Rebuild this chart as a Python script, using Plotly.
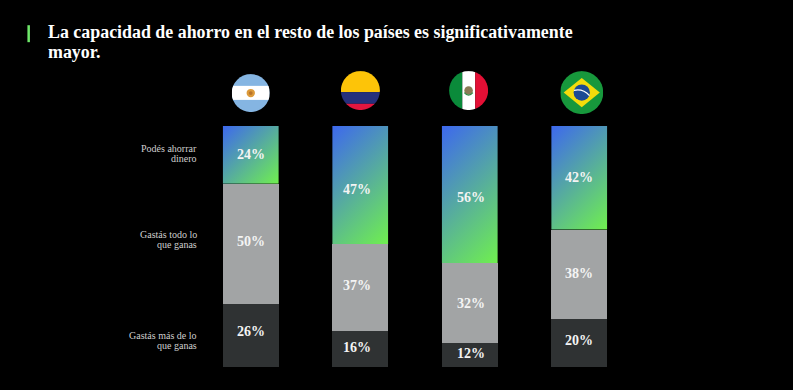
import base64
import plotly.graph_objects as go

W, H = 793, 390
PLOT_L, PLOT_R, PLOT_T, PLOT_B = 196.33, 633.67, 126.0, 367.5

countries = ["Argentina", "Colombia", "México", "Brasil"]
series_names = ["Gastás más de lo que ganas", "Gastás todo lo que ganas", "Podés ahorrar dinero"]
# bar heights as drawn in the picture
bar_more = [26, 15, 10, 20]
bar_all = [50, 36, 33, 37]
bar_save = [24, 49, 57, 43]
# printed percentages
label_more = ["26%", "16%", "12%", "20%"]
label_all = ["50%", "37%", "32%", "38%"]
label_save = ["24%", "47%", "56%", "42%"]
title_lines = ["La capacidad de ahorro en el resto de los países es significativamente", "mayor."]
row_labels = [("Podés ahorrar", "dinero"), ("Gastás todo lo", "que ganas"), ("Gastás más de lo", "que ganas")]

FONT = "Liberation Serif"
x_pos = list(range(len(countries)))


def px(x):
    return (x - PLOT_L) / (PLOT_R - PLOT_L)


def py(y):
    return (PLOT_B - y) / (PLOT_B - PLOT_T)


def uri(svg):
    return "data:image/svg+xml;base64," + base64.b64encode(svg.encode()).decode()


def flag(body):
    return uri(
        '<svg xmlns="http://www.w3.org/2000/svg" width="200" height="200" viewBox="0 0 100 100">'
        '<defs><clipPath id="c"><circle cx="50" cy="50" r="50"/></clipPath></defs>'
        f'<g clip-path="url(#c)">{body}</g></svg>'
    )


flags = {
    "Argentina": (flag(
        '<rect width="100" height="100" fill="#85b5e2"/>'
        '<rect y="31" width="100" height="37" fill="#fff"/>'
        '<circle cx="50" cy="50" r="11" fill="#dc9a3a"/><circle cx="50" cy="50" r="5" fill="#b8742a"/>'
    ), 251, 93, 38),
    "Colombia": (flag(
        '<rect width="100" height="54" fill="#fdc408"/>'
        '<rect y="54" width="100" height="30" fill="#26307c"/>'
        '<rect y="84" width="100" height="16" fill="#e3163f"/>'
    ), 360.5, 90.5, 39),
    "México": (flag(
        '<rect width="34" height="100" fill="#0a8a3a"/>'
        '<rect x="34" width="33" height="100" fill="#fff"/>'
        '<rect x="67" width="33" height="100" fill="#e40f35"/>'
        '<circle cx="50" cy="50" r="11" fill="#8a7a55"/><path d="M39 55 Q50 68 61 55" stroke="#2f8a45" stroke-width="3" fill="none"/>'
    ), 468.5, 90.5, 39),
    "Brasil": (flag(
        '<rect width="100" height="100" fill="#17983c"/>'
        '<path d="M50 16 L92 50 L50 84 L8 50 Z" fill="#f4dc0b"/>'
        '<circle cx="50" cy="50" r="19" fill="#1c4a94"/>'
        '<path d="M32 45 Q52 40 68 57" stroke="#fff" stroke-width="3" fill="none"/>'
    ), 581.5, 92.5, 43),
}

fig = go.Figure()
for name, values, color in [
    (series_names[0], bar_more, "#2f3233"),
    (series_names[1], bar_all, "#a2a4a5"),
    (series_names[2], bar_save, "rgba(0,0,0,0)"),
]:
    fig.add_trace(go.Bar(name=name, x=x_pos, y=values, width=0.512,
                         marker=dict(color=color, line=dict(width=0)), hoverinfo="skip"))

images = []
unit = (PLOT_B - PLOT_T) / 100
for i, v in enumerate(bar_save):
    h = round(v * unit)
    q = (56 + h) / 4
    svg = (
        f'<svg xmlns="http://www.w3.org/2000/svg" width="56" height="{h}">'
        f'<defs><linearGradient id="g" gradientUnits="userSpaceOnUse" x1="{28 - q}" y1="{h / 2 - q}" '
        f'x2="{28 + q}" y2="{h / 2 + q}">'
        '<stop offset="0" stop-color="#3d68ee"/>'
        '<stop offset="1" stop-color="#70f04e"/></linearGradient></defs>'
        f'<rect width="56" height="{h}" fill="url(#g)"/></svg>'
    )
    images.append(dict(source=uri(svg), xref="x", yref="y", x=i, y=bar_more[i] + bar_all[i] + v,
                       sizex=0.512, sizey=v, xanchor="center", yanchor="top",
                       sizing="stretch", layer="below"))
for name in countries:
    src, cx, cy, d = flags[name]
    images.append(dict(source=src, xref="paper", yref="paper", x=px(cx), y=py(cy),
                       sizex=d / (PLOT_R - PLOT_L), sizey=d / (PLOT_B - PLOT_T),
                       xanchor="center", yanchor="middle", sizing="stretch", layer="above"))

annotations = []
# printed values, nudged to where the reference sets them
x_shift = [0, -3, 1, 0]
y_shift_save = [0, -4, -3, 0]
y_shift_all = [3, 2, 0, 1]
y_shift_more = [4, 1, 1, 2]
for i in x_pos:
    bottoms = (0, bar_more[i], bar_more[i] + bar_all[i])
    rows = (
        (label_more[i], bar_more[i], y_shift_more[i]),
        (label_all[i], bar_all[i], y_shift_all[i]),
        (label_save[i], bar_save[i], y_shift_save[i]),
    )
    for base, (text, val, dy) in zip(bottoms, rows):
        annotations.append(dict(x=i, y=base + val / 2, xref="x", yref="y", text=f"<b>{text}</b>",
                                showarrow=False, xshift=x_shift[i], yshift=dy,
                                font=dict(family=FONT, size=14, color="#f4f4f4")))

for line, y in zip(title_lines, (32, 52)):
    annotations.append(dict(x=px(47), y=py(y), xref="paper", yref="paper", xanchor="left", yanchor="middle",
                            text=f"<b>{line}</b>", showarrow=False,
                            font=dict(family=FONT, size=17.9, color="#ffffff")))

for lines, ys in zip(row_labels, ((149, 159), (235, 245), (335.5, 345.5))):
    for line, y in zip(lines, ys):
        annotations.append(dict(x=px(199), y=py(y), xref="paper", yref="paper", xanchor="right", yanchor="middle",
                                text=line, showarrow=False,
                                font=dict(family=FONT, size=10, color="#cfcfcf")))

fig.update_layout(
    width=W, height=H, autosize=False, showlegend=False, barmode="stack",
    paper_bgcolor="#000000", plot_bgcolor="rgba(0,0,0,0)",
    margin=dict(l=PLOT_L, r=W - PLOT_R, t=PLOT_T, b=H - PLOT_B, pad=0),
    xaxis=dict(range=[-0.5, 3.5], visible=False, fixedrange=True),
    yaxis=dict(range=[0, 100], visible=False, fixedrange=True),
    images=images, annotations=annotations,
    shapes=[dict(type="rect", xref="paper", yref="paper", x0=px(28), x1=px(30.5), y0=py(42), y1=py(25),
                 fillcolor="#6fe86a", line=dict(width=0))],
)
fig.write_html("out.html", config=dict(displayModeBar=False),
               post_script="document.documentElement.style.overflow='hidden';"
                           "document.body.style.margin='0';document.body.style.background='#000';")
